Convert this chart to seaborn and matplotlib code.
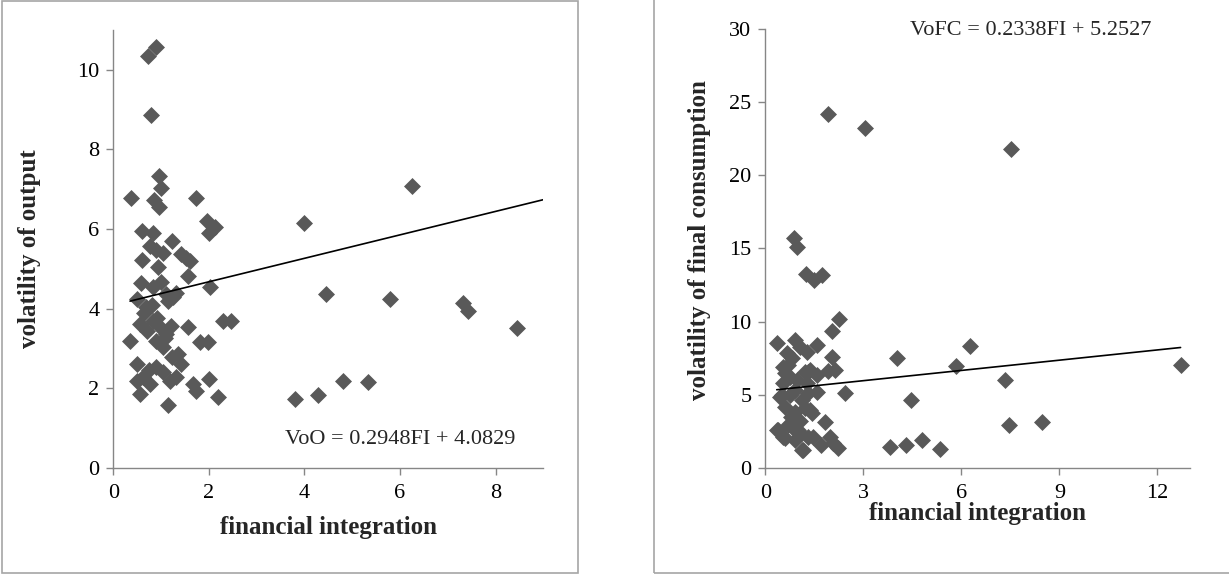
import numpy as np
import pandas as pd
import seaborn as sns
import matplotlib

matplotlib.use("Agg")
import matplotlib.pyplot as plt
from matplotlib.patches import Rectangle

# volatility of output vs financial integration
fi_out = [
    0.72, 0.90, 0.78, 0.96, 1.00, 0.37, 0.86, 0.96, 1.74, 1.96, 2.12, 2.01,
    0.61, 0.83, 1.22, 0.77, 0.90, 1.04, 1.42, 1.53, 1.60, 0.61, 0.94, 1.56,
    2.03, 0.57, 0.83, 1.00, 1.11, 1.32, 0.49, 0.56, 0.70, 0.83, 0.97, 1.11,
    0.90, 1.04, 0.35, 1.56, 1.81, 1.98, 2.29, 2.47, 0.49, 0.63, 0.56, 0.90,
    1.04, 1.18, 1.32, 1.35, 1.22, 1.42, 1.67, 1.74, 2.01, 2.19, 1.15, 0.76,
    0.49, 0.68, 0.80, 1.15, 1.25, 0.65, 0.92, 1.08, 0.75, 1.20,
    3.99, 6.25, 4.45, 5.80, 7.31, 7.43, 8.44, 3.80, 4.29, 4.81, 5.33,
]
vol_out = [
    10.35, 10.58, 8.87, 7.34, 7.04, 6.78, 6.73, 6.54, 6.79, 6.19, 6.04, 5.90,
    5.94, 5.90, 5.69, 5.56, 5.48, 5.40, 5.36, 5.27, 5.19, 5.23, 5.04, 4.83,
    4.53, 4.65, 4.53, 4.67, 4.36, 4.40, 4.23, 3.61, 3.44, 3.69, 3.53, 3.36,
    3.19, 3.03, 3.19, 3.54, 3.15, 3.15, 3.69, 3.69, 2.61, 2.28, 1.86, 2.53,
    2.40, 2.19, 2.28, 2.86, 2.78, 2.61, 2.11, 1.94, 2.23, 1.78, 1.57, 2.11,
    2.19, 4.05, 4.10, 4.20, 4.30, 3.90, 3.75, 3.25, 2.45, 3.55,
    6.15, 7.07, 4.37, 4.23, 4.14, 3.95, 3.51, 1.73, 1.83, 2.19, 2.15,
]

# volatility of final consumption vs financial integration
fi_cons = [
    1.93, 3.05, 0.89, 0.98, 1.24, 1.49, 1.75, 7.53, 6.28, 5.83, 7.35, 12.71,
    4.46, 4.30, 4.81, 5.36, 7.46, 8.47, 4.02, 2.26, 2.03, 0.37, 0.91, 1.57,
    1.06, 1.27, 0.65, 0.81, 2.03, 1.91, 1.37, 0.55, 1.57, 0.76, 0.96, 1.27,
    1.57, 2.44, 0.45, 0.76, 1.11, 1.37, 1.83, 0.35, 0.55, 0.81, 1.06, 1.16,
    1.47, 1.72, 1.98, 2.23, 2.08, 3.81, 0.70, 0.60, 1.21, 0.55, 1.31, 2.13,
    0.50, 0.91, 1.31, 0.60, 0.91, 1.21, 1.42, 0.40, 0.70, 1.01, 1.31, 0.60,
    1.11, 0.91, 0.80, 1.05,
]
vol_cons = [
    24.19, 23.23, 15.70, 15.08, 13.26, 12.84, 13.17, 21.78, 8.34, 6.96, 5.99, 7.06,
    4.63, 1.57, 1.92, 1.30, 2.93, 3.10, 7.49, 10.16, 9.36, 8.51, 8.74, 8.40,
    8.28, 7.94, 7.83, 7.49, 7.55, 6.64, 6.69, 6.91, 6.34, 6.23, 6.00, 5.78,
    5.20, 5.09, 4.86, 4.98, 4.63, 3.95, 3.15, 2.58, 2.12, 2.81, 2.35, 1.21,
    2.12, 1.55, 2.12, 1.33, 1.67, 1.40, 7.03, 6.46, 6.57, 5.80, 6.57, 6.69,
    4.98, 5.32, 5.09, 4.18, 3.83, 4.06, 3.72, 2.58, 2.92, 2.58, 2.12, 2.01,
    1.21, 1.90, 3.50, 3.20,
]

# Excel trendline coefficients shown on the chart
slope_out, icpt_out = 0.2948, 4.0829
slope_cons, icpt_cons = 0.2338, 5.2527
trend_x_out = [0.35, 9.0]
trend_x_cons = [0.35, 12.71]

df_out = pd.DataFrame({"fi": fi_out, "vol": vol_out})
df_cons = pd.DataFrame({"fi": fi_cons, "vol": vol_cons})

sns.set_theme(style="white")
plt.rcParams["font.family"] = ["Liberation Serif", "DejaVu Serif"]

fig = plt.figure(figsize=(12.29, 5.74), dpi=100)
fig.patch.set_facecolor("white")

# panel frames
fig.patches.append(Rectangle((2 / 1229, 0.002), 576 / 1229, 0.996, transform=fig.transFigure,
                             fill=False, edgecolor="#a6a6a6", linewidth=1.2))
fig.patches.append(Rectangle((654 / 1229, 0.002), 0.6, 1.2, transform=fig.transFigure,
                             fill=False, edgecolor="#a6a6a6", linewidth=1.2))

ax1 = fig.add_axes([0.0922, 0.1852, 0.3499, 0.7625])
ax2 = fig.add_axes([0.6227, 0.1852, 0.3456, 0.7638])

mark_color = "#595959"
axis_gray = "#868686"


def style_axes(ax):
    for side in ["top", "right"]:
        ax.spines[side].set_visible(False)
    for side in ["left", "bottom"]:
        ax.spines[side].set_color(axis_gray)
        ax.spines[side].set_linewidth(1.0)
    ax.tick_params(axis="both", direction="out", length=5, width=1.0, color=axis_gray,
                   labelsize=16, labelcolor="black", left=True, bottom=True)
    ax.tick_params(axis="y", pad=5)
    ax.tick_params(axis="x", pad=7)
    ax.grid(False)


# left panel
sns.scatterplot(data=df_out, x="fi", y="vol", marker="D", s=75, color=mark_color,
                linewidth=0, ax=ax1, zorder=3)
tx = np.array(trend_x_out)
ax1.plot(tx, slope_out * tx + icpt_out, color="black", linewidth=1.2, zorder=4)
ax1.set_xlim(0, 9)
ax1.set_ylim(0, 11)
ax1.set_xticks([0, 2, 4, 6, 8])
ax1.set_yticks([0, 2, 4, 6, 8, 10])
ax1.set_xlabel("financial integration", fontsize=18, fontweight="bold")
ax1.set_ylabel("volatility of output", fontsize=18, fontweight="bold")
ax1.xaxis.set_label_coords(0.5, -0.11)
ax1.yaxis.set_label_coords(-0.168, 0.5)
ax1.text(0.935, 0.065, "VoO = 0.2948FI + 4.0829", transform=ax1.transAxes,
         ha="right", va="center", fontsize=16)
style_axes(ax1)

# right panel
sns.scatterplot(data=df_cons, x="fi", y="vol", marker="D", s=75, color=mark_color,
                linewidth=0, ax=ax2, zorder=3)
tx = np.array(trend_x_cons)
ax2.plot(tx, slope_cons * tx + icpt_cons, color="black", linewidth=1.2, zorder=4)
ax2.set_xlim(0, 13)
ax2.set_ylim(0, 30)
ax2.set_xticks([0, 3, 6, 9, 12])
ax2.set_yticks([0, 5, 10, 15, 20, 25, 30])
ax2.set_xlabel("financial integration", fontsize=18, fontweight="bold")
ax2.set_ylabel("volatility of final consumption", fontsize=18, fontweight="bold")
ax2.xaxis.set_label_coords(0.5, -0.078)
ax2.yaxis.set_label_coords(-0.127, 0.52)
ax2.text(0.624, 0.997, "VoFC = 0.2338FI + 5.2527", transform=ax2.transAxes,
         ha="center", va="center", fontsize=16)
style_axes(ax2)

fig.savefig("out.png", dpi=100, facecolor="white")
